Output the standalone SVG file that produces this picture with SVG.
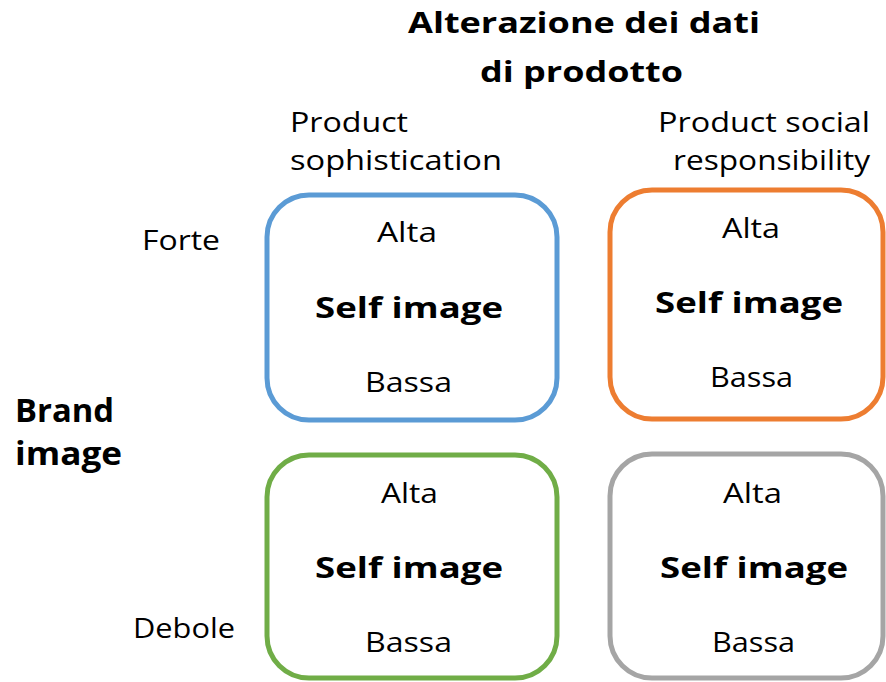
<svg xmlns="http://www.w3.org/2000/svg" width="886" height="682" viewBox="0 0 886 682">
  <style>
    text { font-family: "Open Sans", "Noto Sans", "DejaVu Sans", sans-serif; fill: #000; }
    .r { font-size: 27px; }
    .b { font-size: 29px; font-weight: bold; }
    .t { font-size: 28px; font-weight: bold; }
    .box { fill: #fff; stroke-width: 5; }
  </style>
  <rect width="886" height="682" fill="#fff"/>
  <g id="title">
    <text class="t" x="408" y="33" textLength="352" lengthAdjust="spacingAndGlyphs">Alterazione dei dati</text>
    <text class="t" x="480" y="82" textLength="203" lengthAdjust="spacingAndGlyphs">di prodotto</text>
  </g>
  <g id="col1-label">
    <text class="r" x="290" y="132" textLength="118" lengthAdjust="spacingAndGlyphs">Product</text>
    <text class="r" x="290" y="170" textLength="212" lengthAdjust="spacingAndGlyphs">sophistication</text>
  </g>
  <g id="col2-label">
    <text class="r" x="658" y="132" textLength="212" lengthAdjust="spacingAndGlyphs">Product social</text>
    <text class="r" x="673" y="170" textLength="197" lengthAdjust="spacingAndGlyphs">responsibility</text>
  </g>
  <g id="row-labels">
    <text class="r" x="142" y="250" textLength="78" lengthAdjust="spacingAndGlyphs">Forte</text>
    <text class="r" x="133" y="638" textLength="102" lengthAdjust="spacingAndGlyphs">Debole</text>
  </g>
  <g id="brand-image">
    <text class="t" style="font-size:32px" x="15" y="422" textLength="99" lengthAdjust="spacingAndGlyphs">Brand</text>
    <text class="t" style="font-size:32px" x="15" y="465" textLength="107" lengthAdjust="spacingAndGlyphs">image</text>
  </g>
  <g id="box-blue">
    <rect class="box" x="267" y="195" width="290" height="225" rx="42" stroke="#5B9BD5"/>
    <text class="r" x="377" y="242" textLength="60" lengthAdjust="spacingAndGlyphs">Alta</text>
    <text class="b" x="315" y="318" textLength="188" lengthAdjust="spacingAndGlyphs">Self image</text>
    <text class="r" x="365" y="392" textLength="87" lengthAdjust="spacingAndGlyphs">Bassa</text>
  </g>
  <g id="box-orange">
    <rect class="box" x="610" y="190" width="273" height="229" rx="42" stroke="#ED7D31"/>
    <text class="r" x="722" y="238" textLength="58" lengthAdjust="spacingAndGlyphs">Alta</text>
    <text class="b" x="655" y="313" textLength="188" lengthAdjust="spacingAndGlyphs">Self image</text>
    <text class="r" x="710" y="387" textLength="83" lengthAdjust="spacingAndGlyphs">Bassa</text>
  </g>
  <g id="box-green">
    <rect class="box" x="267" y="455" width="290" height="223" rx="42" stroke="#70AD47"/>
    <text class="r" x="381" y="503" textLength="57" lengthAdjust="spacingAndGlyphs">Alta</text>
    <text class="b" x="315" y="578" textLength="188" lengthAdjust="spacingAndGlyphs">Self image</text>
    <text class="r" x="365" y="652" textLength="87" lengthAdjust="spacingAndGlyphs">Bassa</text>
  </g>
  <g id="box-gray">
    <rect class="box" x="610" y="454" width="273" height="224" rx="42" stroke="#A5A5A5"/>
    <text class="r" x="723" y="503" textLength="59" lengthAdjust="spacingAndGlyphs">Alta</text>
    <text class="b" x="660" y="578" textLength="188" lengthAdjust="spacingAndGlyphs">Self image</text>
    <text class="r" x="712" y="652" textLength="83" lengthAdjust="spacingAndGlyphs">Bassa</text>
  </g>
  <g id="connectors"/>
</svg>
